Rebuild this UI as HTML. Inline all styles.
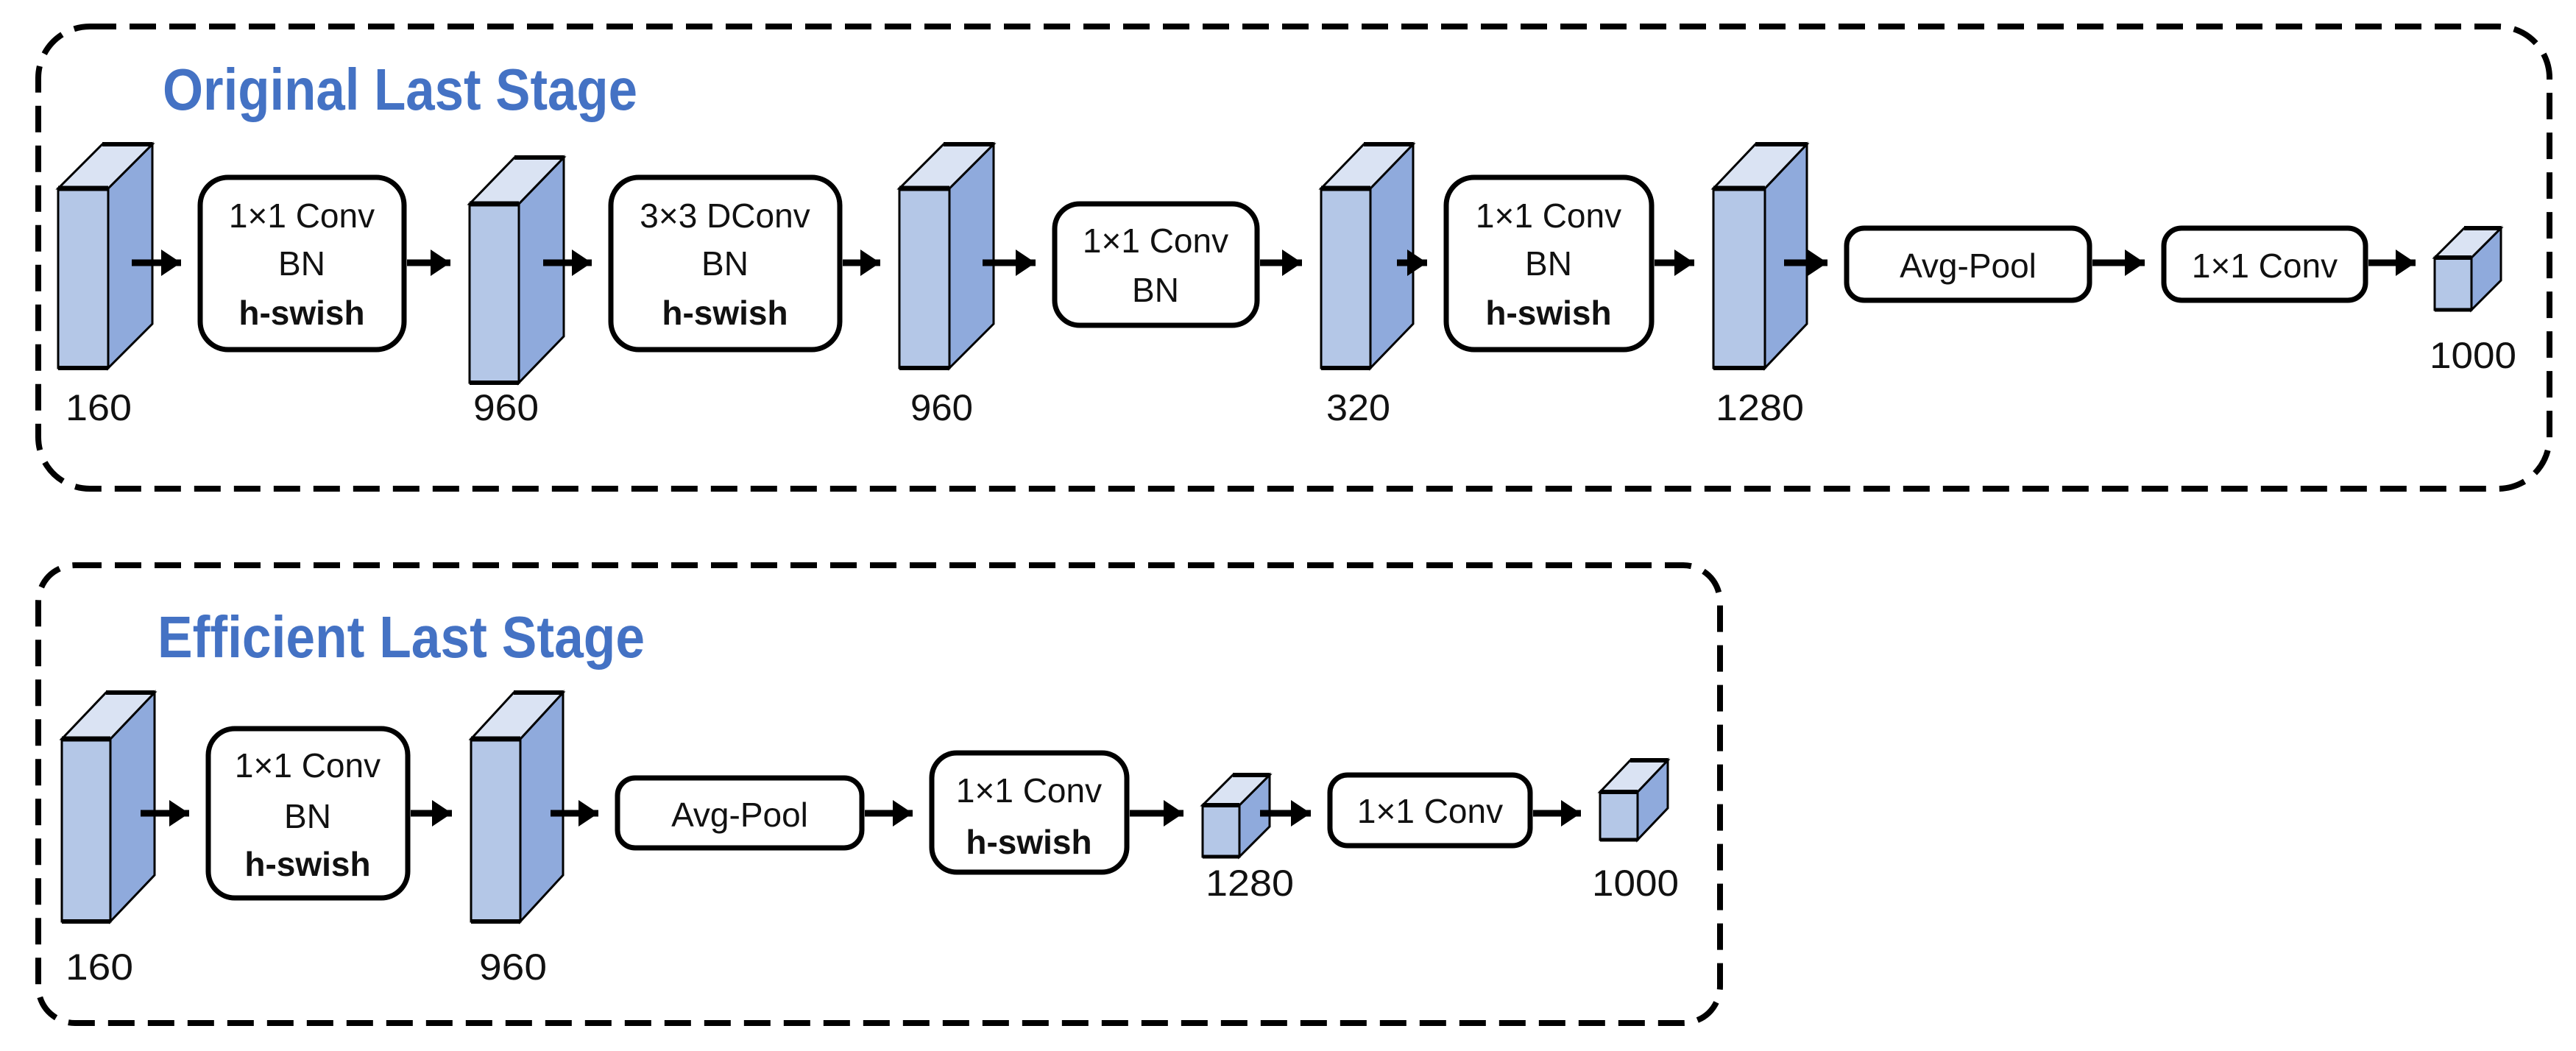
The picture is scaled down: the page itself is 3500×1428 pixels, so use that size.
<!DOCTYPE html>
<html><head><meta charset="utf-8"><style>
html,body{margin:0;padding:0;background:#fff;}
svg{display:block;}
text{font-family:"Liberation Sans",sans-serif;fill:#111;}
.t{font-size:46px;text-anchor:middle;}
.b{font-weight:bold;}
.lab{font-size:50px;}
.ttl{font-size:80px;font-weight:bold;fill:#4472C4;}
.box{fill:#fff;stroke:#000;stroke-width:7;}
.fr{fill:#B4C7E7;stroke:#000;stroke-width:3;}
.sd{fill:#8FAADC;stroke:#000;stroke-width:3;}
.tp{fill:#DAE3F3;stroke:#000;stroke-width:3;}
.ar{stroke:#000;stroke-width:9;}
</style></head><body>
<svg width="3500" height="1428" viewBox="0 0 3500 1428" xmlns="http://www.w3.org/2000/svg">
<defs>
<marker id="ah" markerWidth="4" markerHeight="4" refX="3" refY="2" orient="auto" markerUnits="strokeWidth">
<path d="M0,0 L3,2 L0,4 z" fill="#000"/>
</marker>
</defs>
<rect x="52" y="36" width="3412" height="628" rx="70" fill="none" stroke="#000" stroke-width="8" stroke-dasharray="36,18"/>
<rect x="52" y="768" width="2285" height="622" rx="50" fill="none" stroke="#000" stroke-width="8" stroke-dasharray="36,18"/>
<text class="ttl" x="221" y="149" textLength="645" lengthAdjust="spacingAndGlyphs">Original Last Stage</text>
<text class="ttl" x="214" y="893" textLength="662" lengthAdjust="spacingAndGlyphs">Efficient Last Stage</text>

<!-- blocks -->
<g id="blocks">
<!-- x,y,w,h,dx,dy -->
<polygon class="sd" points="147,256 207,196 207,440 147,500"/><polygon class="tp" points="79,256 139,196 207,196 147,256"/><rect class="fr" x="79" y="256" width="68" height="244"/><line x1="79" y1="256" x2="147" y2="256" stroke="#000" stroke-width="7"/><line x1="79" y1="500" x2="147" y2="500" stroke="#000" stroke-width="6"/><line x1="139" y1="196" x2="207" y2="196" stroke="#000" stroke-width="6"/>
<polygon class="sd" points="705,277 766,214 766,457 705,520"/><polygon class="tp" points="638,277 699,214 766,214 705,277"/><rect class="fr" x="638" y="277" width="67" height="243"/><line x1="638" y1="277" x2="705" y2="277" stroke="#000" stroke-width="7"/><line x1="638" y1="520" x2="705" y2="520" stroke="#000" stroke-width="6"/><line x1="699" y1="214" x2="766" y2="214" stroke="#000" stroke-width="6"/>
<polygon class="sd" points="1290,256 1350,196 1350,440 1290,500"/><polygon class="tp" points="1222,256 1282,196 1350,196 1290,256"/><rect class="fr" x="1222" y="256" width="68" height="244"/><line x1="1222" y1="256" x2="1290" y2="256" stroke="#000" stroke-width="7"/><line x1="1222" y1="500" x2="1290" y2="500" stroke="#000" stroke-width="6"/><line x1="1282" y1="196" x2="1350" y2="196" stroke="#000" stroke-width="6"/>
<polygon class="sd" points="1862,256 1920,196 1920,440 1862,500"/><polygon class="tp" points="1795,256 1853,196 1920,196 1862,256"/><rect class="fr" x="1795" y="256" width="67" height="244"/><line x1="1795" y1="256" x2="1862" y2="256" stroke="#000" stroke-width="7"/><line x1="1795" y1="500" x2="1862" y2="500" stroke="#000" stroke-width="6"/><line x1="1853" y1="196" x2="1920" y2="196" stroke="#000" stroke-width="6"/>
<polygon class="sd" points="2398,256 2455,196 2455,440 2398,500"/><polygon class="tp" points="2328,256 2385,196 2455,196 2398,256"/><rect class="fr" x="2328" y="256" width="70" height="244"/><line x1="2328" y1="256" x2="2398" y2="256" stroke="#000" stroke-width="7"/><line x1="2328" y1="500" x2="2398" y2="500" stroke="#000" stroke-width="6"/><line x1="2385" y1="196" x2="2455" y2="196" stroke="#000" stroke-width="6"/>
<polygon class="sd" points="3358,350 3398,310 3398,381 3358,421"/><polygon class="tp" points="3308,350 3348,310 3398,310 3358,350"/><rect class="fr" x="3308" y="350" width="50" height="71"/><line x1="3308" y1="350" x2="3358" y2="350" stroke="#000" stroke-width="6"/><line x1="3308" y1="421" x2="3358" y2="421" stroke="#000" stroke-width="5"/><line x1="3348" y1="310" x2="3398" y2="310" stroke="#000" stroke-width="6"/>
<!-- bottom -->
<polygon class="sd" points="150,1004 210,941 210,1189 150,1252"/><polygon class="tp" points="84,1004 144,941 210,941 150,1004"/><rect class="fr" x="84" y="1004" width="66" height="248"/><line x1="84" y1="1004" x2="150" y2="1004" stroke="#000" stroke-width="7"/><line x1="84" y1="1252" x2="150" y2="1252" stroke="#000" stroke-width="6"/><line x1="144" y1="941" x2="210" y2="941" stroke="#000" stroke-width="6"/>
<polygon class="sd" points="707,1004 765,941 765,1189 707,1252"/><polygon class="tp" points="640,1004 698,941 765,941 707,1004"/><rect class="fr" x="640" y="1004" width="67" height="248"/><line x1="640" y1="1004" x2="707" y2="1004" stroke="#000" stroke-width="7"/><line x1="640" y1="1252" x2="707" y2="1252" stroke="#000" stroke-width="6"/><line x1="698" y1="941" x2="765" y2="941" stroke="#000" stroke-width="6"/>
<polygon class="sd" points="1684,1094 1725,1053 1725,1123 1684,1164"/><polygon class="tp" points="1634,1094 1675,1053 1725,1053 1684,1094"/><rect class="fr" x="1634" y="1094" width="50" height="70"/><line x1="1634" y1="1094" x2="1684" y2="1094" stroke="#000" stroke-width="6"/><line x1="1634" y1="1164" x2="1684" y2="1164" stroke="#000" stroke-width="5"/><line x1="1675" y1="1053" x2="1725" y2="1053" stroke="#000" stroke-width="6"/>
<polygon class="sd" points="2225,1076 2266,1033 2266,1098 2225,1141"/><polygon class="tp" points="2174,1076 2215,1033 2266,1033 2225,1076"/><rect class="fr" x="2174" y="1076" width="51" height="65"/><line x1="2174" y1="1076" x2="2225" y2="1076" stroke="#000" stroke-width="6"/><line x1="2174" y1="1141" x2="2225" y2="1141" stroke="#000" stroke-width="5"/><line x1="2215" y1="1033" x2="2266" y2="1033" stroke="#000" stroke-width="6"/>
</g>

<!-- boxes top -->
<rect class="box" x="272" y="241" width="277" height="234" rx="38"/>
<text class="t" x="410" y="309">1×1 Conv</text><text class="t" x="410" y="374">BN</text><text class="t b" x="410" y="441">h-swish</text>
<rect class="box" x="830" y="241" width="311" height="234" rx="38"/>
<text class="t" x="985" y="309">3×3 DConv</text><text class="t" x="985" y="374">BN</text><text class="t b" x="985" y="441">h-swish</text>
<rect class="box" x="1433" y="277" width="275" height="165" rx="34"/>
<text class="t" x="1570" y="343">1×1 Conv</text><text class="t" x="1570" y="410">BN</text>
<rect class="box" x="1965" y="241" width="279" height="234" rx="38"/>
<text class="t" x="2104" y="309">1×1 Conv</text><text class="t" x="2104" y="374">BN</text><text class="t b" x="2104" y="441">h-swish</text>
<rect class="box" x="2509" y="310" width="330" height="98" rx="24"/>
<text class="t" x="2674" y="377">Avg-Pool</text>
<rect class="box" x="2940" y="310" width="274" height="98" rx="24"/>
<text class="t" x="3077" y="377">1×1 Conv</text>

<!-- boxes bottom -->
<rect class="box" x="283" y="990" width="271" height="230" rx="36"/>
<text class="t" x="418" y="1056">1×1 Conv</text><text class="t" x="418" y="1125">BN</text><text class="t b" x="418" y="1190">h-swish</text>
<rect class="box" x="839" y="1057" width="332" height="95" rx="24"/>
<text class="t" x="1005" y="1123">Avg-Pool</text>
<rect class="box" x="1266" y="1023" width="265" height="162" rx="34"/>
<text class="t" x="1398" y="1090">1×1 Conv</text><text class="t b" x="1398" y="1160">h-swish</text>
<rect class="box" x="1807" y="1053" width="272" height="96" rx="24"/>
<text class="t" x="1943" y="1118">1×1 Conv</text>

<!-- arrows -->
<g class="ar" marker-end="url(#ah)">
<line x1="179" y1="357" x2="246" y2="357"/>
<line x1="553" y1="357" x2="612" y2="357"/>
<line x1="738" y1="357" x2="804" y2="357"/>
<line x1="1145" y1="357" x2="1196" y2="357"/>
<line x1="1335" y1="357" x2="1407" y2="357"/>
<line x1="1712" y1="357" x2="1769" y2="357"/>
<line x1="1898" y1="357" x2="1939" y2="357"/>
<line x1="2248" y1="357" x2="2302" y2="357"/>
<line x1="2424" y1="357" x2="2483" y2="357"/>
<line x1="2843" y1="357" x2="2914" y2="357"/>
<line x1="3218" y1="357" x2="3282" y2="357"/>
<line x1="191" y1="1105" x2="257" y2="1105"/>
<line x1="558" y1="1105" x2="614" y2="1105"/>
<line x1="748" y1="1105" x2="813" y2="1105"/>
<line x1="1175" y1="1105" x2="1240" y2="1105"/>
<line x1="1535" y1="1105" x2="1608" y2="1105"/>
<line x1="1712" y1="1105" x2="1781" y2="1105"/>
<line x1="2083" y1="1105" x2="2148" y2="1105"/>
</g>

<!-- labels -->
<text class="lab" x="89" y="571" textLength="90" lengthAdjust="spacingAndGlyphs">160</text>
<text class="lab" x="643" y="571" textLength="89" lengthAdjust="spacingAndGlyphs">960</text>
<text class="lab" x="1237" y="571" textLength="85" lengthAdjust="spacingAndGlyphs">960</text>
<text class="lab" x="1802" y="571" textLength="87" lengthAdjust="spacingAndGlyphs">320</text>
<text class="lab" x="2331" y="571" textLength="120" lengthAdjust="spacingAndGlyphs">1280</text>
<text class="lab" x="3301" y="500" textLength="118" lengthAdjust="spacingAndGlyphs">1000</text>
<text class="lab" x="89" y="1331" textLength="92" lengthAdjust="spacingAndGlyphs">160</text>
<text class="lab" x="651" y="1331" textLength="92" lengthAdjust="spacingAndGlyphs">960</text>
<text class="lab" x="1638" y="1217" textLength="120" lengthAdjust="spacingAndGlyphs">1280</text>
<text class="lab" x="2163" y="1217" textLength="118" lengthAdjust="spacingAndGlyphs">1000</text>
</svg>
</body></html>
